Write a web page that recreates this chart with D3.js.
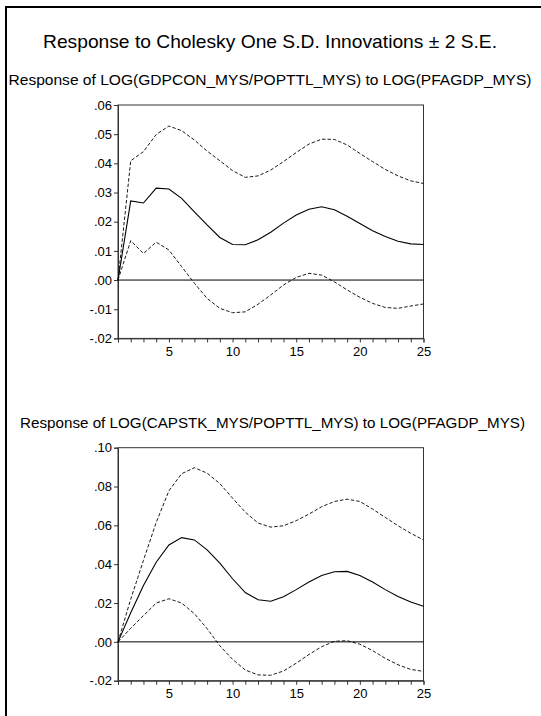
<!DOCTYPE html>
<html>
<head>
<meta charset="utf-8">
<script src="https://cdn.jsdelivr.net/npm/d3@7"></script>
<style>
  body { margin: 0; background: #fff; }
  svg { display: block; font-family: "Liberation Sans", Arial, sans-serif; }
</style>
</head>
<body>
<div id="chart"></div>
<script>
const mainTitle = 'Response to Cholesky One S.D. Innovations \u00b1 2 S.E.';
const periods = d3.range(1, 26);
const xTicks = [5, 10, 15, 20, 25];

// panel 1: GDP per capita
const gdpTitle = 'Response of LOG(GDPCON_MYS/POPTTL_MYS) to LOG(PFAGDP_MYS)';
const gdpTicks = [-0.02, -0.01, 0, 0.01, 0.02, 0.03, 0.04, 0.05, 0.06];
const gdpResp = [0, 0.0271, 0.0264, 0.0315, 0.0312, 0.0280, 0.0234, 0.0189, 0.0146, 0.0122,
  0.0121, 0.0138, 0.0164, 0.0195, 0.0223, 0.0243, 0.0251, 0.0241, 0.0219, 0.0194,
  0.0169, 0.0149, 0.0133, 0.0124, 0.0122];
const gdpUpper = [0, 0.0409, 0.0440, 0.0499, 0.0528, 0.0512, 0.0480, 0.0442, 0.0409, 0.0375,
  0.0352, 0.0357, 0.0377, 0.0406, 0.0437, 0.0466, 0.0483, 0.0482, 0.0463, 0.0434,
  0.0406, 0.0379, 0.0357, 0.0340, 0.0331];
const gdpLower = [0, 0.0135, 0.0091, 0.0130, 0.0103, 0.0046, -0.0011, -0.0063, -0.0097, -0.0112,
  -0.0109, -0.0083, -0.0051, -0.0017, 0.0009, 0.0023, 0.0017, -0.0006, -0.0034, -0.0059,
  -0.0080, -0.0094, -0.0097, -0.0089, -0.0082];

// panel 2: capital stock per capita
const capTitle = 'Response of LOG(CAPSTK_MYS/POPTTL_MYS) to LOG(PFAGDP_MYS)';
const capTicks = [-0.02, 0, 0.02, 0.04, 0.06, 0.08, 0.10];
const capResp = [0, 0.0150, 0.0290, 0.0410, 0.0499, 0.0537, 0.0525, 0.0474, 0.0405, 0.0325,
  0.0254, 0.0217, 0.0209, 0.0232, 0.0269, 0.0308, 0.0342, 0.0361, 0.0363, 0.0342,
  0.0308, 0.0269, 0.0234, 0.0205, 0.0183];
const capUpper = [0, 0.0220, 0.0420, 0.0615, 0.0778, 0.0866, 0.0897, 0.0869, 0.0815, 0.0740,
  0.0668, 0.0612, 0.0591, 0.0598, 0.0624, 0.0658, 0.0696, 0.0723, 0.0735, 0.0723,
  0.0684, 0.0641, 0.0598, 0.0559, 0.0525];
const capLower = [0, 0.0070, 0.0135, 0.0200, 0.0222, 0.0200, 0.0145, 0.0068, -0.0020, -0.0090,
  -0.0145, -0.0170, -0.0172, -0.0150, -0.0110, -0.0065, -0.0025, 0.0003, 0.0006, -0.0012,
  -0.0045, -0.0085, -0.0118, -0.0142, -0.0152];

const W = 541, H = 716;
const svg = d3.select('#chart').append('svg').attr('width', W).attr('height', H);

svg.append('rect')
  .attr('x', 6).attr('y', 7).attr('width', 620).attr('height', 800)
  .attr('fill', 'none').attr('stroke', '#000').attr('stroke-width', 2);

svg.append('text')
  .attr('x', 270).attr('y', 48)
  .attr('text-anchor', 'middle')
  .attr('font-size', 19)
  .attr('textLength', 454).attr('lengthAdjust', 'spacingAndGlyphs')
  .attr('fill', '#000')
  .text(mainTitle);

const fmt = v => {
  if (Math.abs(v) < 1e-9) return '.00';
  return v.toFixed(2).replace('0.', '.');
};

function drawPanel(cfg) {
  const x = d3.scaleLinear().domain([1, 25]).range([118, 423.5]);
  const y = d3.scaleLinear().domain(cfg.yDomain).range([cfg.bottom, cfg.top]);

  svg.append('text')
    .attr('x', cfg.titleX).attr('y', cfg.titleY)
    .attr('text-anchor', 'middle')
    .attr('font-size', 15)
    .attr('textLength', cfg.titleW).attr('lengthAdjust', 'spacingAndGlyphs')
    .attr('fill', '#000')
    .text(cfg.title);

  const g = svg.append('g');

  // frame
  g.append('rect')
    .attr('x', x.range()[0]).attr('y', cfg.top)
    .attr('width', x.range()[1] - x.range()[0]).attr('height', cfg.bottom - cfg.top)
    .attr('fill', 'none').attr('stroke', '#333').attr('stroke-width', 1);

  // y axis
  const yAxis = g.append('g')
    .attr('transform', `translate(${x.range()[0]},0)`)
    .call(d3.axisLeft(y).tickValues(cfg.yTicks).tickFormat(fmt).tickSize(4).tickPadding(2));
  // x axis, minor ticks every period
  const xAxis = g.append('g')
    .attr('transform', `translate(0,${cfg.bottom})`)
    .call(d3.axisBottom(x).tickValues(periods)
      .tickFormat(d => xTicks.includes(d) ? d : '').tickSize(4).tickPadding(4));

  [yAxis, xAxis].forEach(a => {
    a.select('.domain').attr('stroke', '#333');
    a.selectAll('.tick line').attr('stroke', '#333');
    a.selectAll('text').attr('font-size', 13).attr('fill', '#000')
      .attr('font-family', '"Liberation Sans", Arial, sans-serif');
  });

  // zero line
  g.append('line')
    .attr('x1', x.range()[0]).attr('x2', x.range()[1])
    .attr('y1', y(0)).attr('y2', y(0))
    .attr('stroke', '#000').attr('stroke-width', 1);

  const line = d3.line().x((d, i) => x(periods[i])).y(d => y(d));

  g.append('path').datum(cfg.upper).attr('d', line)
    .attr('fill', 'none').attr('stroke', '#000').attr('stroke-width', 0.9)
    .attr('stroke-dasharray', '3.5,2');
  g.append('path').datum(cfg.lower).attr('d', line)
    .attr('fill', 'none').attr('stroke', '#000').attr('stroke-width', 0.9)
    .attr('stroke-dasharray', '3.5,2');
  g.append('path').datum(cfg.resp).attr('d', line)
    .attr('fill', 'none').attr('stroke', '#000').attr('stroke-width', 1.1);
}

drawPanel({
  title: gdpTitle, titleX: 270, titleY: 85, titleW: 523,
  yDomain: [-0.02, 0.06], yTicks: gdpTicks, top: 105, bottom: 338.4,
  resp: gdpResp, upper: gdpUpper, lower: gdpLower
});

drawPanel({
  title: capTitle, titleX: 272.5, titleY: 428, titleW: 505,
  yDomain: [-0.02, 0.10], yTicks: capTicks, top: 447.7, bottom: 680.7,
  resp: capResp, upper: capUpper, lower: capLower
});
</script>
</body>
</html>
